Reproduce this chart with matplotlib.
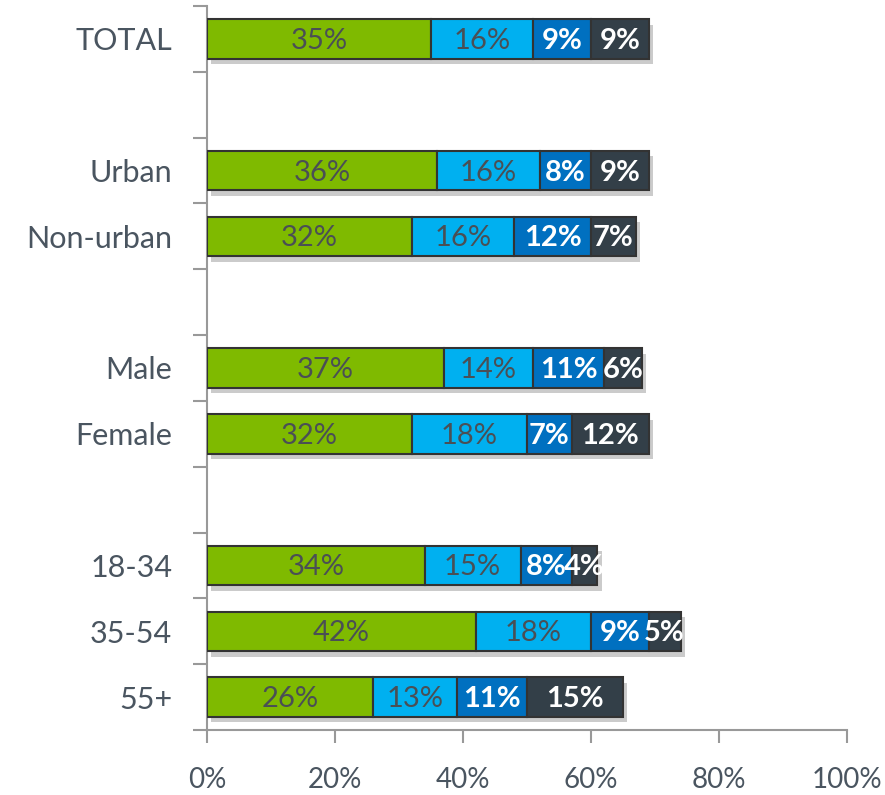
import numpy as np
import matplotlib.pyplot as plt
import matplotlib.patheffects as pe

plt.rcParams['font.family'] = ['Lato', 'DejaVu Sans']

# rows of the chart (blank strings are spacer rows)
categories = ["TOTAL", "", "Urban", "Non-urban", "", "Male", "Female", "", "18-34", "35-54", "55+"]
seg1 = [35, 0, 36, 32, 0, 37, 32, 0, 34, 42, 26]
seg2 = [16, 0, 16, 16, 0, 14, 18, 0, 15, 18, 13]
seg3 = [9, 0, 8, 12, 0, 11, 7, 0, 8, 9, 11]
seg4 = [9, 0, 9, 7, 0, 6, 12, 0, 4, 5, 15]
x_ticks = [0, 20, 40, 60, 80, 100]

colors = ["#7fba00", "#00b0f0", "#0070c0", "#333f48"]
text_colors = ["#4a4f55", "#4a4f55", "white", "white"]

fig = plt.figure(figsize=(8.85, 7.95), dpi=100)
ax = fig.add_axes([207/885, 65/795, 640/885, 724/795])

y = np.arange(len(categories))
left = np.zeros(len(categories))
shadow = [pe.SimplePatchShadow(offset=(3, -4), alpha=0.3, shadow_rgbFace="#555555"), pe.Normal()]
for vals, col, tcol in zip([seg1, seg2, seg3, seg4], colors, text_colors):
    vals = np.array(vals, dtype=float)
    mask = vals > 0
    bars = ax.barh(y[mask], vals[mask], left=left[mask], height=0.6, color=col,
                   edgecolor="#333333", linewidth=1.5, zorder=3)
    for b in bars:
        b.set_path_effects(shadow)
    for yi, v, l in zip(y[mask], vals[mask], left[mask]):
        weight = "bold" if tcol == "white" else "normal"
        ax.text(l + v / 2, yi + 0.03, f"{int(v)}%", ha="center", va="center", color=tcol,
                fontsize=21, fontweight=weight, zorder=4)
    left = left + vals

ax.set_xlim(0, 100)
ax.set_ylim(len(categories) - 0.5, -0.5)
ax.set_xticks(x_ticks)
ax.set_xticklabels([f"{t}%" for t in x_ticks], fontsize=20, color="#4a5560")
ax.set_yticks(y)
ax.set_yticklabels(categories, fontsize=22, color="#4a5560")
ax.tick_params(axis="y", which="major", length=0, pad=25)
ax.set_yticks(np.arange(len(categories) + 1) - 0.5, minor=True)
ax.tick_params(axis="y", which="minor", length=10, color="#999999", width=1.5)
ax.tick_params(axis="x", length=9, color="#999999", width=1.5, pad=18)

for s in ["top", "right"]:
    ax.spines[s].set_visible(False)
ax.spines["left"].set_color("#999999")
ax.spines["bottom"].set_color("#999999")
ax.spines["left"].set_linewidth(1.5)
ax.spines["bottom"].set_linewidth(1.5)

fig.savefig("out.png", dpi=100)
